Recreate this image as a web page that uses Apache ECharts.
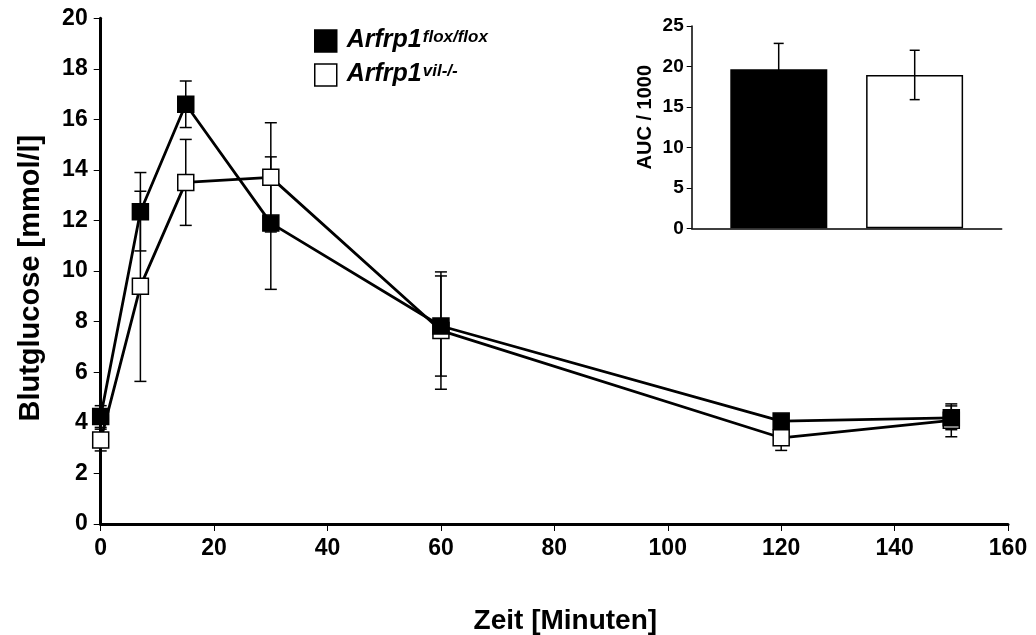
<!DOCTYPE html>
<html>
<head>
<meta charset="utf-8">
<script src="https://cdn.jsdelivr.net/npm/echarts@6/dist/echarts.min.js"></script>
<style>
html,body{margin:0;padding:0;background:#fff;}
#chart{width:1036px;height:635px;}
</style>
</head>
<body>
<div id="chart"></div>
<script>
// ---- data ----
const times = [0, 7, 15, 30, 60, 120, 150];
const floxMean = [4.25, 12.35, 16.6, 11.9, 7.83, 4.07, 4.2];
const floxErr  = [0.43, 1.55, 0.92, 2.62, 1.98, 0.25, 0.47];
const vilMean  = [3.32, 9.4, 13.51, 13.71, 7.65, 3.41, 4.1];
const vilErr   = [0.43, 3.76, 1.7, 2.16, 2.32, 0.5, 0.65];
const seriesNames = ['Arfrp1 flox/flox', 'Arfrp1 vil-/-'];
const aucCategory = ['AUC'];
const aucMean = [19.65, 18.95];
const aucErr  = [3.2, 3.05];
const xTicks = [0, 20, 40, 60, 80, 100, 120, 140, 160];
const yTicks = [0, 2, 4, 6, 8, 10, 12, 14, 16, 18, 20];
const aucTicks = [0, 5, 10, 15, 20, 25];

const FONT = '"Liberation Sans", Arial, Helvetica, sans-serif';

function pairs(xs, ys) { return xs.map((x, i) => [x, ys[i]]); }
function errData(xs, m, e) { return xs.map((x, i) => [x, m[i] - e[i], m[i] + e[i]]); }

function errRender(offset, capHalf, lw) {
  return function (params, api) {
    const lo = api.coord([api.value(0), api.value(1)]);
    const hi = api.coord([api.value(0), api.value(2)]);
    const x = lo[0] + offset;
    const st = { stroke: '#000', lineWidth: lw };
    return {
      type: 'group',
      children: [
        { type: 'line', shape: { x1: x, y1: lo[1], x2: x, y2: hi[1] }, style: st },
        { type: 'line', shape: { x1: x - capHalf, y1: lo[1], x2: x + capHalf, y2: lo[1] }, style: st },
        { type: 'line', shape: { x1: x - capHalf, y1: hi[1], x2: x + capHalf, y2: hi[1] }, style: st }
      ]
    };
  };
}

const chart = echarts.init(document.getElementById('chart'), null, { renderer: 'canvas' });

const option = {
  backgroundColor: '#fff',
  animation: false,
  textStyle: { fontFamily: FONT, color: '#000' },
  legend: {
    orient: 'vertical',
    left: 309,
    top: 23,
    itemWidth: 22,
    itemHeight: 22,
    itemGap: 9,
    icon: 'rect',
    data: [
      { name: seriesNames[0], itemStyle: { color: '#000', borderColor: '#000', borderWidth: 1.5 } },
      { name: seriesNames[1], itemStyle: { color: '#fff', borderColor: '#000', borderWidth: 1.5 } }
    ],
    formatter: function (name) {
      const parts = name.split(' ');
      return '{a|' + parts[0] + '}{b|' + parts[1] + '}';
    },
    textStyle: {
      rich: {
        a: { fontFamily: FONT, fontSize: 25, fontWeight: 'bold', fontStyle: 'italic', color: '#000', lineHeight: 24, verticalAlign: 'bottom', padding: [0, 0, 0, 5] },
        b: { fontFamily: FONT, fontSize: 17, fontWeight: 'bold', fontStyle: 'italic', color: '#000', lineHeight: 24, verticalAlign: 'bottom', padding: [0, 0, 7, 1] }
      }
    }
  },
  grid: [
    { left: 100.7, right: 28, top: 18.3, bottom: 111, containLabel: false, outerBoundsMode: 'none' },
    { left: 691.7, right: 34.3, top: 26, bottom: 406.7, containLabel: false, outerBoundsMode: 'none' }
  ],
  xAxis: [
    {
      type: 'value', gridIndex: 0, min: xTicks[0], max: xTicks[xTicks.length - 1], interval: xTicks[1] - xTicks[0],
      name: 'Zeit [Minuten]', nameLocation: 'middle', nameGap: 83,
      nameTextStyle: { fontFamily: FONT, fontSize: 28, fontWeight: 'bold', color: '#000', padding: [0, 0, 0, 22] },
      axisLine: { show: true, onZero: false, lineStyle: { color: '#000', width: 3 } },
      axisTick: { show: true, inside: false, length: 7, lineStyle: { color: '#000', width: 1 } },
      axisLabel: { fontFamily: FONT, fontSize: 23, fontWeight: 'bold', color: '#000', margin: 13 },
      splitLine: { show: false }
    },
    {
      type: 'category', gridIndex: 1, data: aucCategory,
      axisLine: { show: true, lineStyle: { color: '#000', width: 1.5 } },
      axisTick: { show: false },
      axisLabel: { show: false },
      splitLine: { show: false }
    }
  ],
  yAxis: [
    {
      type: 'value', gridIndex: 0, min: yTicks[0], max: yTicks[yTicks.length - 1], interval: yTicks[1] - yTicks[0],
      name: 'Blutglucose [mmol/l]', nameLocation: 'middle', nameGap: 55, nameRotate: 90,
      nameTextStyle: { fontFamily: FONT, fontSize: 29, fontWeight: 'bold', color: '#000', padding: [0, 14, 0, 0] },
      axisLine: { show: true, onZero: false, lineStyle: { color: '#000', width: 3 } },
      axisTick: { show: true, inside: false, length: 7, lineStyle: { color: '#000', width: 1 } },
      axisLabel: { fontFamily: FONT, fontSize: 23, fontWeight: 'bold', color: '#000', margin: 13 },
      splitLine: { show: false }
    },
    {
      type: 'value', gridIndex: 1, min: aucTicks[0], max: aucTicks[aucTicks.length - 1], interval: aucTicks[1] - aucTicks[0],
      name: 'AUC / 1000', nameLocation: 'middle', nameGap: 36, nameRotate: 90,
      nameTextStyle: { fontFamily: FONT, fontSize: 20, fontWeight: 'bold', color: '#000', padding: [0, 0, 0, 20] },
      axisLine: { show: true, onZero: false, lineStyle: { color: '#000', width: 1.5 } },
      axisTick: { show: true, inside: false, length: 5, lineStyle: { color: '#000', width: 1 } },
      axisLabel: { fontFamily: FONT, fontSize: 19, fontWeight: 'bold', color: '#000', margin: 8 },
      splitLine: { show: false }
    }
  ],
  series: [
    {
      name: 'errFlox', type: 'custom', xAxisIndex: 0, yAxisIndex: 0, z: 1, silent: true,
      renderItem: errRender(0, 6, 1.5), data: errData(times, floxMean, floxErr)
    },
    {
      name: 'errVil', type: 'custom', xAxisIndex: 0, yAxisIndex: 0, z: 1, silent: true,
      renderItem: errRender(0, 6, 1.5), data: errData(times, vilMean, vilErr)
    },
    {
      name: seriesNames[1], type: 'line', xAxisIndex: 0, yAxisIndex: 0, z: 3,
      data: pairs(times, vilMean),
      symbol: 'rect', symbolSize: 16,
      lineStyle: { color: '#000', width: 2.8 },
      itemStyle: { color: '#fff', borderColor: '#000', borderWidth: 1.5 }
    },
    {
      name: seriesNames[0], type: 'line', xAxisIndex: 0, yAxisIndex: 0, z: 4,
      data: pairs(times, floxMean),
      symbol: 'rect', symbolSize: 16,
      lineStyle: { color: '#000', width: 2.8 },
      itemStyle: { color: '#000', borderColor: '#000', borderWidth: 1.5 }
    },
    {
      name: 'aucFlox', type: 'bar', xAxisIndex: 1, yAxisIndex: 1, z: 2,
      data: [aucMean[0]], barWidth: 97, barGap: '40%',
      itemStyle: { color: '#000', borderColor: '#000', borderWidth: 1.5 }
    },
    {
      name: 'aucVil', type: 'bar', xAxisIndex: 1, yAxisIndex: 1, z: 2,
      data: [aucMean[1]], barWidth: 97, barGap: '40%',
      itemStyle: { color: '#fff', borderColor: '#000', borderWidth: 1.5 }
    },
    {
      name: 'aucErrFlox', type: 'custom', xAxisIndex: 1, yAxisIndex: 1, z: 5, silent: true,
      renderItem: errRender(-68, 5, 1.5), data: [[0, aucMean[0] - aucErr[0], aucMean[0] + aucErr[0]]]
    },
    {
      name: 'aucErrVil', type: 'custom', xAxisIndex: 1, yAxisIndex: 1, z: 5, silent: true,
      renderItem: errRender(68, 5, 1.5), data: [[0, aucMean[1] - aucErr[1], aucMean[1] + aucErr[1]]]
    }
  ]
};
chart.setOption(option);
</script>
</body>
</html>
